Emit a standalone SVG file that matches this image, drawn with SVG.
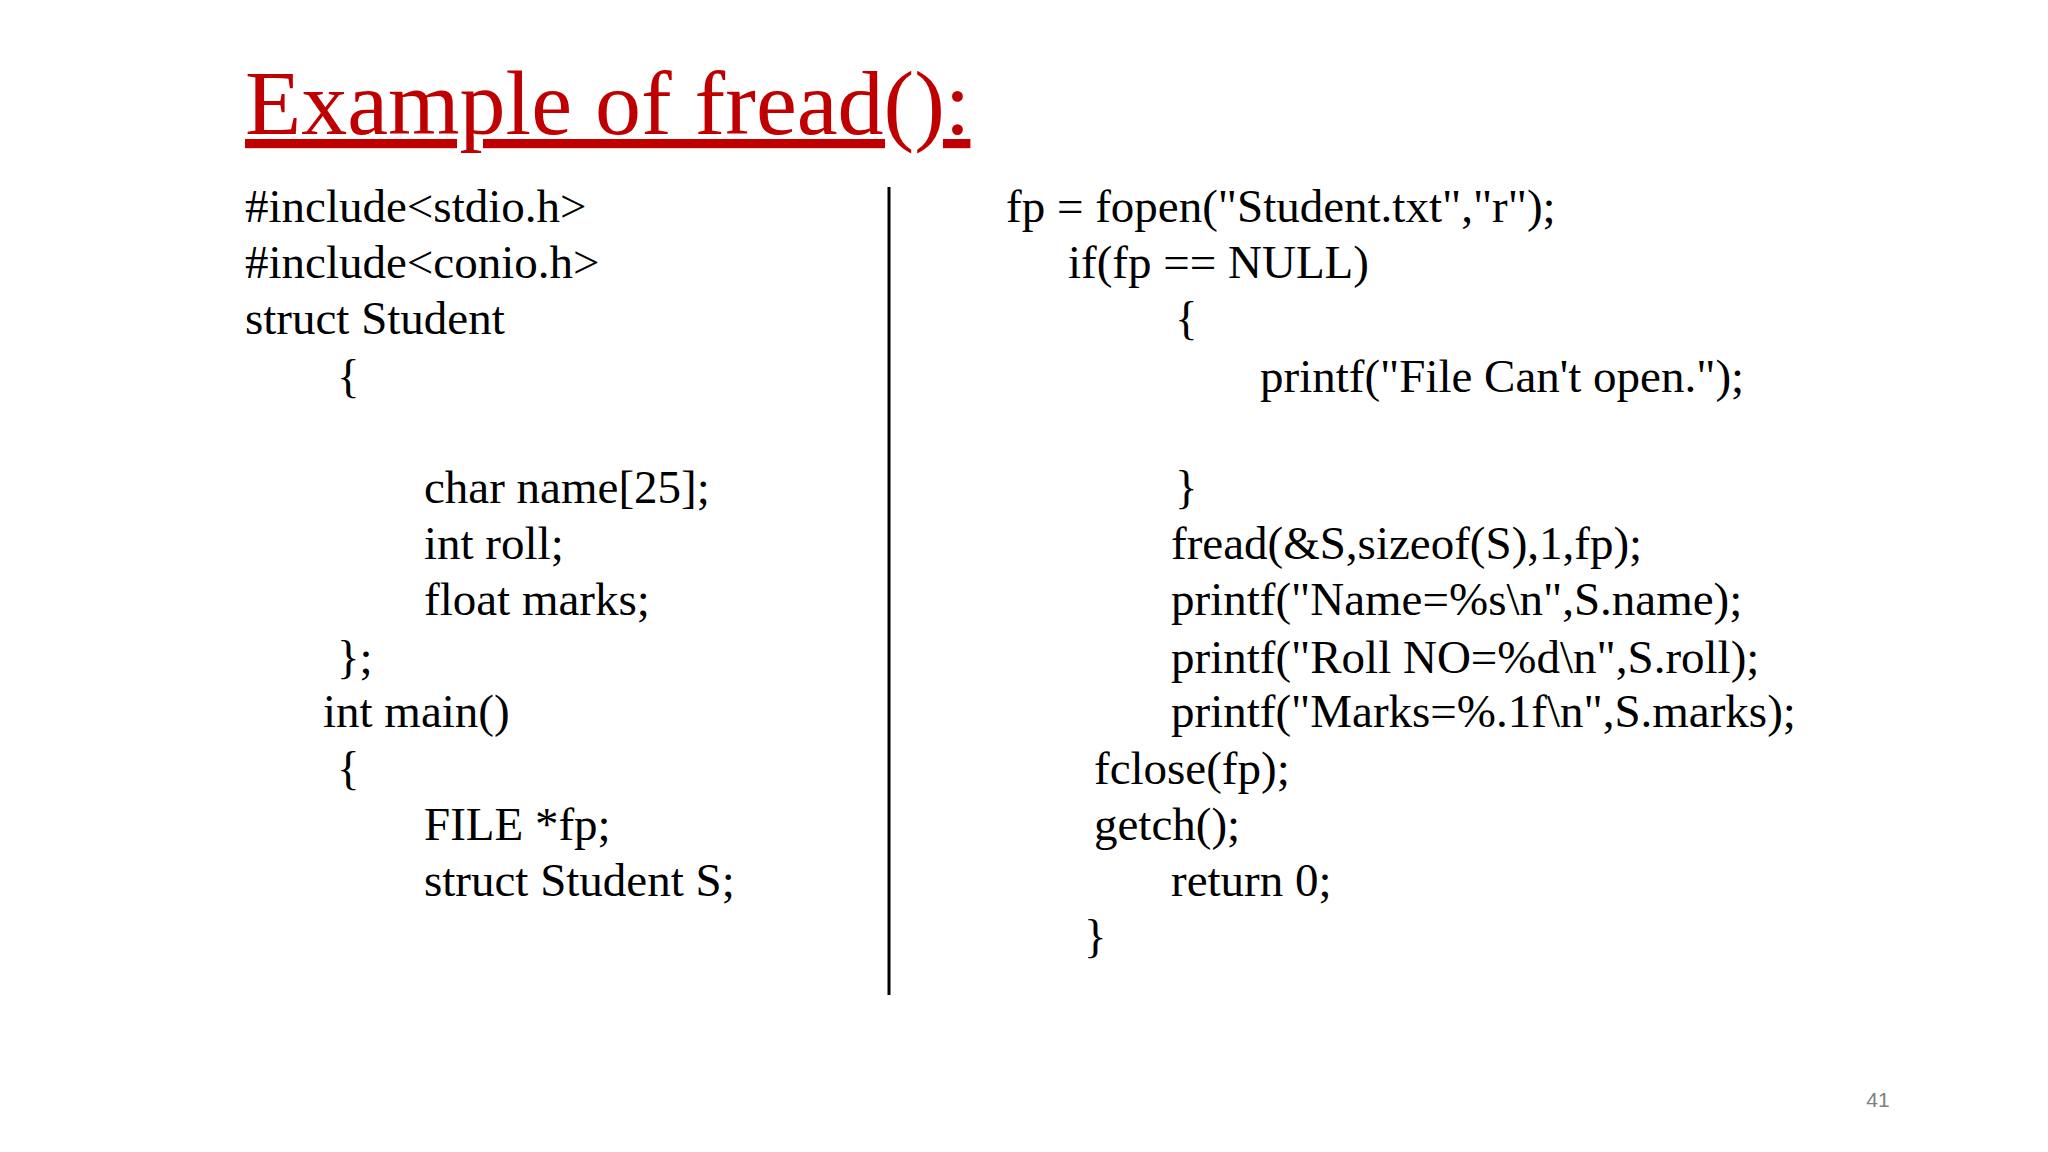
<svg xmlns="http://www.w3.org/2000/svg" width="2048" height="1152" viewBox="0 0 2048 1152">
<style>
.c{font-family:"Liberation Serif","Times New Roman",serif;font-size:47px;fill:#000}
</style>
<rect width="2048" height="1152" fill="#fff"/>
<g id="title"><text x="245" y="134" font-family="Liberation Serif,serif" font-size="92" fill="#C00000" text-decoration="underline">Example of fread():</text></g>
<g id="divider"><line x1="889" y1="187" x2="889" y2="995" stroke="#000" stroke-width="3"/></g>
<g id="left">
<text class="c" x="245" y="222">#include&lt;stdio.h&gt;</text>
<text class="c" x="245" y="278">#include&lt;conio.h&gt;</text>
<text class="c" x="245" y="334">struct Student</text>
<text class="c" x="337" y="392">{</text>
<text class="c" x="424" y="503">char name[25];</text>
<text class="c" x="424" y="559">int roll;</text>
<text class="c" x="424" y="615">float marks;</text>
<text class="c" x="337" y="673">};</text>
<text class="c" x="323" y="727">int main()</text>
<text class="c" x="337" y="784">{</text>
<text class="c" x="424" y="840">FILE *fp;</text>
<text class="c" x="424" y="896">struct Student S;</text>
</g>
<g id="right">
<text class="c" x="1006" y="222">fp = fopen("Student.txt","r");</text>
<text class="c" x="1068" y="278">if(fp == NULL)</text>
<text class="c" x="1175" y="334">{</text>
<text class="c" x="1260" y="392">printf("File Can't open.");</text>
<text class="c" x="1175" y="503">}</text>
<text class="c" x="1171" y="559">fread(&amp;S,sizeof(S),1,fp);</text>
<text class="c" x="1171" y="615">printf("Name=%s\n",S.name);</text>
<text class="c" x="1171" y="673">printf("Roll NO=%d\n",S.roll);</text>
<text class="c" x="1171" y="727">printf("Marks=%.1f\n",S.marks);</text>
<text class="c" x="1094" y="784">fclose(fp);</text>
<text class="c" x="1094" y="840">getch();</text>
<text class="c" x="1171" y="896">return 0;</text>
<text class="c" x="1084" y="952">}</text>
</g>
<g id="page"><text x="1878" y="1107" font-family="Liberation Sans,sans-serif" font-size="21" fill="#808080" text-anchor="middle">41</text></g>
</svg>
